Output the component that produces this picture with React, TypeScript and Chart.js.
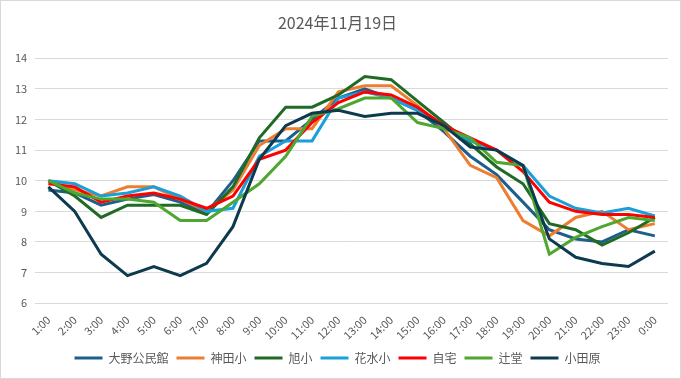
import React, { useEffect, useRef } from "react";
import { Chart, registerables } from "chart.js";

Chart.register(...registerables);

const hours = ["1:00","2:00","3:00","4:00","5:00","6:00","7:00","8:00","9:00","10:00","11:00","12:00","13:00","14:00","15:00","16:00","17:00","18:00","19:00","20:00","21:00","22:00","23:00","0:00"];

const oono = [9.7, 9.6, 9.2, 9.4, 9.55, 9.3, 8.95, 10.0, 11.3, 11.3, 12.0, 12.7, 13.0, 12.7, 12.3, 11.6, 10.8, 10.2, 9.3, 8.4, 8.1, 8.0, 8.4, 8.2];
const kanda = [10.0, 9.7, 9.5, 9.8, 9.8, 9.4, 9.0, 9.7, 11.15, 11.7, 11.7, 12.9, 13.1, 13.1, 12.45, 11.7, 10.5, 10.1, 8.7, 8.2, 8.8, 9.0, 8.4, 8.6];
const asahi = [10.0, 9.5, 8.8, 9.2, 9.2, 9.2, 8.9, 9.8, 11.4, 12.4, 12.4, 12.8, 13.4, 13.3, 12.6, 11.9, 11.2, 10.45, 9.9, 8.6, 8.4, 7.9, 8.3, 8.8];
const hanamizu = [10.0, 9.9, 9.5, 9.6, 9.8, 9.5, 9.0, 9.1, 10.8, 11.3, 11.3, 12.7, 12.9, 12.7, 12.3, 11.8, 11.3, 11.0, 10.5, 9.5, 9.1, 8.95, 9.1, 8.85];
const jitaku = [9.9, 9.8, 9.3, 9.5, 9.6, 9.4, 9.1, 9.5, 10.7, 11.0, 11.9, 12.55, 12.9, 12.8, 12.4, 11.8, 11.4, 11.0, 10.3, 9.3, 9.0, 8.9, 8.9, 8.8];
const tsujido = [10.0, 9.6, 9.4, 9.4, 9.3, 8.7, 8.7, 9.3, 9.9, 10.8, 12.1, 12.35, 12.7, 12.7, 11.9, 11.7, 11.4, 10.6, 10.5, 7.6, 8.15, 8.5, 8.8, 8.7];
const odawara = [9.8, 9.0, 7.6, 6.9, 7.2, 6.9, 7.3, 8.5, 10.7, 11.8, 12.2, 12.3, 12.1, 12.2, 12.2, 11.8, 11.1, 11.0, 10.5, 8.1, 7.5, 7.3, 7.2, 7.7];

const seriesNames = ["大野公民館", "神田小", "旭小", "花水小", "自宅", "辻堂", "小田原"];
const seriesValues = [oono, kanda, asahi, hanamizu, jitaku, tsujido, odawara];
const seriesColors = ["#1d5f8a", "#ed7d31", "#1f6b26", "#1aa0d8", "#ff0000", "#4ea72e", "#0e3a4f"];

const titleText = "2024年11月19日";
const FONT = "'Noto Sans CJK JP', 'Noto Sans', sans-serif";

export default function App() {
  const ref = useRef<HTMLCanvasElement | null>(null);
  useEffect(() => {
    if (!ref.current) return;
    const n = seriesNames.length;
    const chart = new Chart(ref.current, {
      type: "line",
      data: {
        labels: hours,
        datasets: seriesNames.map((name, i) => ({
          label: name,
          data: seriesValues[i],
          borderColor: seriesColors[i],
          backgroundColor: seriesColors[i],
          borderWidth: 3,
          pointRadius: 0,
          tension: 0,
          order: n - i,
        })),
      },
      options: {
        animation: false,
        responsive: false,
        maintainAspectRatio: false,
        layout: { padding: { left: 6, right: 12, top: 8, bottom: 4 } },
        plugins: {
          title: {
            display: true,
            text: titleText,
            color: "#595959",
            font: { family: FONT, size: 16, weight: "normal" },
            padding: { top: 4, bottom: 26 },
          },
          legend: {
            position: "bottom",
            labels: {
              usePointStyle: true,
              pointStyle: "line",
              pointStyleWidth: 28,
              color: "#595959",
              font: { family: FONT, size: 12 },
              padding: 8,
              sort: (a: any, b: any) => a.datasetIndex - b.datasetIndex,
            },
          },
          tooltip: { enabled: false },
        },
        scales: {
          x: {
            offset: true,
            grid: { display: false },
            border: { display: false },
            ticks: {
              color: "#595959",
              font: { family: FONT, size: 11 },
              maxRotation: 45,
              minRotation: 45,
              autoSkip: false,
              padding: 2,
            },
          },
          y: {
            min: 6,
            max: 14,
            grid: { color: "#d9d9d9", drawTicks: false },
            border: { display: false },
            ticks: {
              stepSize: 1,
              color: "#595959",
              font: { family: FONT, size: 11 },
              padding: 8,
            },
          },
        },
      },
    });
    return () => chart.destroy();
  }, []);
  return (
    <div style={{ position: "fixed", left: 0, top: 0, width: 681, height: 379, boxSizing: "border-box", border: "1px solid #d9d9d9", background: "#fff" }}>
      <canvas ref={ref} width={679} height={377} style={{ display: "block" }} />
    </div>
  );
}
